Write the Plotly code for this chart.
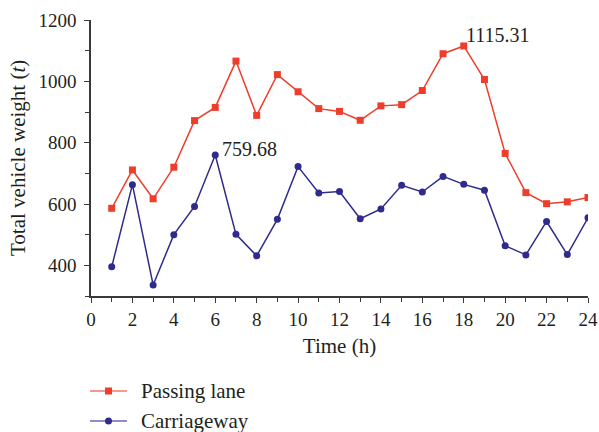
import plotly.graph_objects as go

hours = list(range(1, 25))
passing_lane = [586, 711, 617, 720, 872, 915, 1066, 889, 1022, 966, 911, 902,
                873, 920, 924, 970, 1090, 1115.31, 1006, 765, 637, 601, 607, 621]
carriageway = [395, 663, 336, 500, 592, 759.68, 501, 431, 550, 722, 636, 641,
               552, 584, 661, 639, 690, 664, 645, 464, 434, 543, 435, 555]
series_names = ["Passing lane", "Carriageway"]

RED = "#EE3E2B"
BLUE = "#2F2A8E"
FONT = "Liberation Serif"
TXT = "#231F20"

W, H = 599, 432
ML, MR, MT, MB = 91, 11, 20, 136
PW, PH = W - ML - MR, H - MT - MB


def px_x(px):
    return (px - ML) / PW


def px_y(py):
    return (H - MB - py) / PH


fig = go.Figure()
fig.add_trace(go.Scatter(
    x=hours, y=passing_lane, name=series_names[0], mode="lines+markers",
    line=dict(color=RED, width=1.5),
    marker=dict(symbol="square", size=7, color=RED),
))
fig.add_trace(go.Scatter(
    x=hours, y=carriageway, name=series_names[1], mode="lines+markers",
    line=dict(color=BLUE, width=1.5),
    marker=dict(symbol="circle", size=7, color=BLUE),
))

# value labels at the two peaks (x/y pixel offsets per label)
peak_pl = passing_lane.index(max(passing_lane))
peak_cw = carriageway.index(max(carriageway))
for ys, i, dx, dy in ((passing_lane, peak_pl, 0, -2), (carriageway, peak_cw, 5, -7)):
    fig.add_annotation(
        x=hours[i], y=ys[i], text=f"{ys[i]:.2f}", showarrow=False,
        xanchor="left", yanchor="bottom", xshift=dx, yshift=dy,
        font=dict(family=FONT, size=20, color=TXT),
    )

# y-axis title as rotated text left of the tick labels
fig.add_annotation(
    xref="paper", yref="paper", x=px_x(18), y=0.5,
    text="Total vehicle weight (<i>t</i>)", textangle=-90, showarrow=False,
    xanchor="center", yanchor="middle",
    font=dict(family=FONT, size=21, color=TXT),
)

# legend below the chart: line sample with marker, then the series name
legend_rows = [(391, RED, "rect"), (421, BLUE, "circle")]
for name, (row_y, color, kind) in zip(series_names, legend_rows):
    y0 = px_y(row_y)
    fig.add_shape(type="line", xref="paper", yref="paper",
                  x0=px_x(90), x1=px_x(127), y0=y0, y1=y0,
                  line=dict(color=color, width=1.5), opacity=0.7)
    r = 3.5
    fig.add_shape(type=kind, xref="paper", yref="paper",
                  x0=px_x(108.5 - r), x1=px_x(108.5 + r),
                  y0=px_y(row_y + r), y1=px_y(row_y - r),
                  fillcolor=color, line=dict(width=0))
    fig.add_annotation(xref="paper", yref="paper", x=px_x(139), y=y0,
                       text=name, showarrow=False, xanchor="left", yanchor="middle",
                       font=dict(family=FONT, size=21, color=TXT))

axis_common = dict(
    showline=True, linecolor="#3a3a3a", linewidth=1.5,
    ticks="outside", ticklen=5, tickwidth=1.2, tickcolor="#3a3a3a",
    showgrid=False, zeroline=False,
    tickfont=dict(family=FONT, size=19, color=TXT),
)

fig.update_xaxes(
    range=[0, 24], tick0=0, dtick=2,
    minor=dict(dtick=1, ticks="outside", ticklen=4, tickcolor="#3a3a3a", showgrid=False),
    title=dict(text="Time (h)", font=dict(family=FONT, size=21, color=TXT), standoff=10),
    **axis_common,
)
fig.update_yaxes(
    range=[300, 1200], tick0=400, dtick=200,
    minor=dict(dtick=100, ticks="outside", ticklen=4, tickcolor="#3a3a3a", showgrid=False),
    ticklabelstandoff=4,
    **axis_common,
)

fig.update_layout(
    width=W, height=H,
    margin=dict(l=ML, r=MR, t=MT, b=MB, autoexpand=False),
    plot_bgcolor="white", paper_bgcolor="white",
    showlegend=False,
)

fig.write_html("out.html")
